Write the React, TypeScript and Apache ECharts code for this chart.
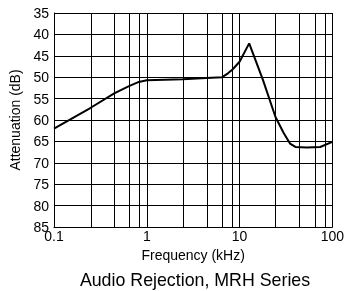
import React, { useEffect, useRef } from 'react';
import * as echarts from 'echarts';

// Audio rejection curve
const frequencyKHz = [0.1, 0.246, 0.446, 0.643, 0.822, 1.0, 2.44, 4.39, 6.5, 7.5, 8.4, 10, 12.7, 17.9, 24.4, 30, 35, 40, 53, 74, 100];
const attenuationDb = [62.0, 57.2, 53.8, 52.1, 51.1, 50.7, 50.5, 50.2, 50.0, 49.1, 48.2, 46.4, 42.1, 50.7, 59.3, 63.1, 65.5, 66.3, 66.4, 66.3, 65.1];

// Vertical grid lines drawn in each decade (as in the original sheet)
const gridDecades = [0.1, 1, 10];
const gridFactors = [2.45, 4.45, 6.5, 8.4];

// Frequency axis range (kHz)
const xRange = [0.1, 100];

// Attenuation tick values (dB)
const yTicks = [35, 40, 45, 50, 55, 60, 65, 70, 75, 80, 85];

const FONT = '"Liberation Sans", Arial, Helvetica, sans-serif';

export default function App() {
  const ref = useRef<HTMLDivElement>(null);
  useEffect(() => {
    const chart = echarts.init(ref.current!, null, { renderer: 'svg' });
    const vLines = gridDecades.flatMap((d) => gridFactors.map((f) => ({ xAxis: d * f })));
    chart.setOption({
      animation: false,
      textStyle: { fontFamily: FONT, color: '#000' },
      title: {
        text: 'Audio Rejection, MRH Series',
        left: 190,
        textAlign: 'center',
        top: 266,
        textStyle: { fontFamily: FONT, fontSize: 17.8, fontWeight: 'normal', color: '#000' },
      },
      grid: { left: 54, top: 13, width: 282, height: 214 },
      xAxis: {
        type: 'log',
        logBase: 10,
        min: xRange[0],
        max: xRange[1],
        name: 'Frequency (kHz)',
        nameLocation: 'middle',
        nameGap: 19,
        nameTextStyle: { fontFamily: FONT, fontSize: 14, color: '#000' },
        axisLine: { show: true, lineStyle: { color: '#000', width: 1 } },
        axisTick: { show: false },
        axisLabel: {
          color: '#000',
          fontSize: 14,
          margin: 2,
          formatter: (v: number) => String(+v.toPrecision(3)),
        },
        splitLine: { show: true, lineStyle: { color: '#000', width: 1 } },
      },
      yAxis: {
        type: 'value',
        inverse: true,
        min: yTicks[0],
        max: yTicks[yTicks.length - 1],
        interval: yTicks[1] - yTicks[0],
        name: 'Attenuation (dB)',
        nameLocation: 'middle',
        nameGap: 32,
        nameTextStyle: { fontFamily: FONT, fontSize: 14, color: '#000' },
        axisLine: { show: true, lineStyle: { color: '#000', width: 1 } },
        axisTick: { show: false },
        axisLabel: { color: '#000', fontSize: 14, margin: 5 },
        splitLine: { show: true, lineStyle: { color: '#000', width: 1, opacity: 1, type: 'solid' } },
      },
      series: [
        {
          type: 'line',
          data: frequencyKHz.map((f, i) => [f, attenuationDb[i]]),
          symbol: 'none',
          showSymbol: false,
          lineStyle: { color: '#000', width: 2 },
          z: 5,
          markLine: {
            silent: true,
            symbol: 'none',
            label: { show: false },
            lineStyle: { color: '#000', width: 1, type: 'solid' },
            data: vLines,
          },
        },
      ],
    });
    return () => chart.dispose();
  }, []);
  return <div ref={ref} style={{ position: 'fixed', left: 0, top: 0, width: 347, height: 291 }} />;
}
